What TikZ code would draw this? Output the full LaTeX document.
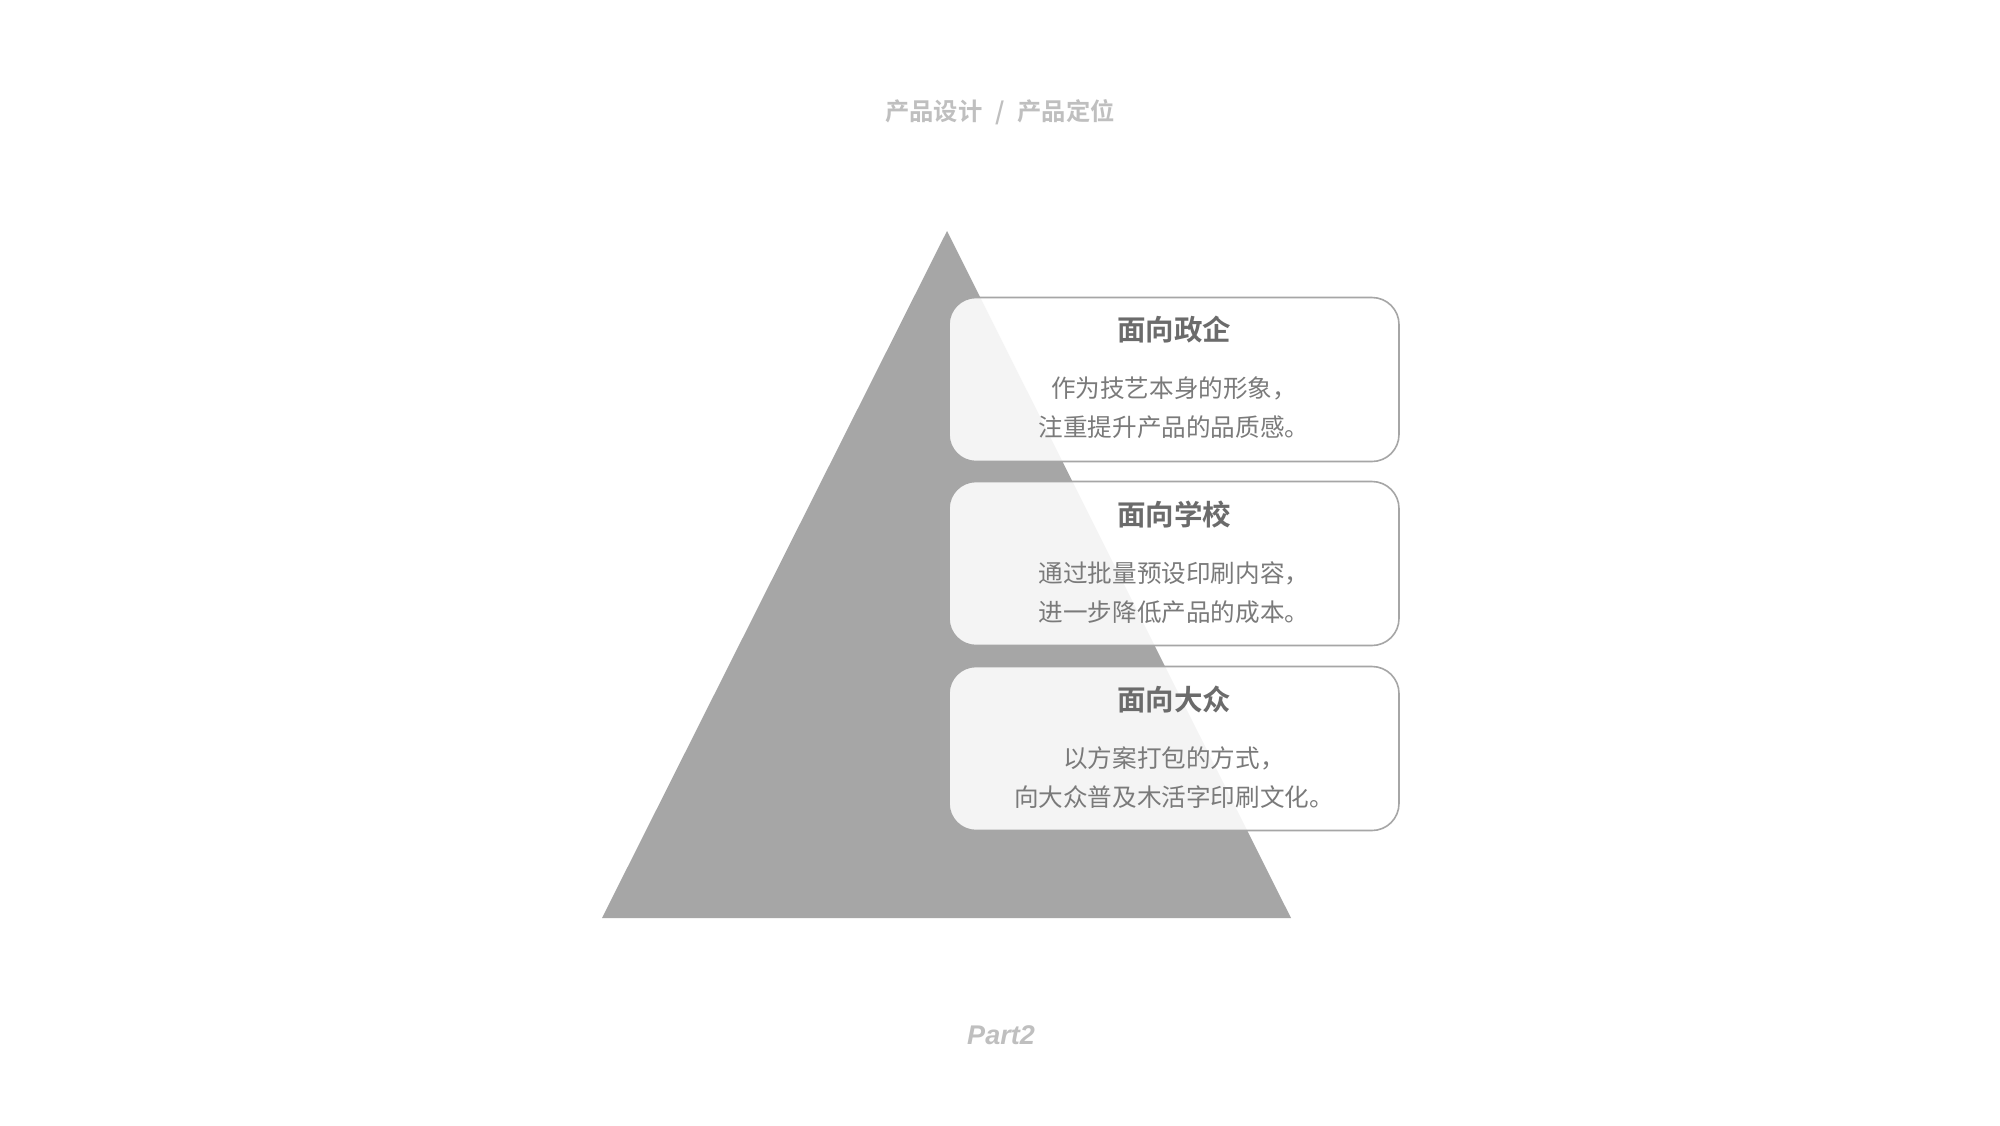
\documentclass[tikz,border=0pt]{standalone}
\usepackage{fontspec}
\newfontfamily\cjk{Noto Sans CJK SC}
\newfontfamily\cjkb{Noto Sans CJK SC Bold}
\setsansfont{Liberation Sans}
\begin{document}
\begin{tikzpicture}[x=1pt,y=-1pt,
  card/.style={draw=black!35, line width=1.6pt, fill=white, fill opacity=0.88, text opacity=1,
    rounded corners=27pt, minimum width=450pt, minimum height=164pt, inner sep=0pt},
  head/.style={font=\cjkb\fontsize{28.5}{32}\selectfont, text=black!58, anchor=center},
  body/.style={font=\cjk\fontsize{24.6}{39}\selectfont, text=black!52, align=center, anchor=center}]
\fill[white] (0,0) rectangle (2000,1125);
\useasboundingbox (0,0) rectangle (2000,1125);
\coordinate (apex) at (947,231);
\coordinate (bl) at (602,918);
\coordinate (br) at (1291,918);
\fill[black!35] (apex) -- (bl) -- (br) -- cycle;
\node[font=\cjkb\fontsize{24.3}{28}\selectfont, text=black!25] (title) at (1000,112) {产品设计\hspace{13pt}/\hspace{13pt}产品定位};
\node[font=\sffamily\bfseries\itshape\fontsize{27}{31}\selectfont, text=black!25] (part) at (1001,1035) {Part2};
\node[card] (c1) at (1174,379.5) {};
\node[card] (c2) at (1174,563.5) {};
\node[card] (c3) at (1174,748.5) {};
\node[head] (h1) at (1174,330) {面向政企};
\node[body] (b1) at (1174,408) {作为技艺本身的形象，\\注重提升产品的品质感。};
\node[head] (h2) at (1174,515) {面向学校};
\node[body] (b2) at (1174,593) {通过批量预设印刷内容，\\进一步降低产品的成本。};
\node[head] (h3) at (1174,700) {面向大众};
\node[body] (b3) at (1174,778) {以方案打包的方式，\\向大众普及木活字印刷文化。};
\end{tikzpicture}
\end{document}
